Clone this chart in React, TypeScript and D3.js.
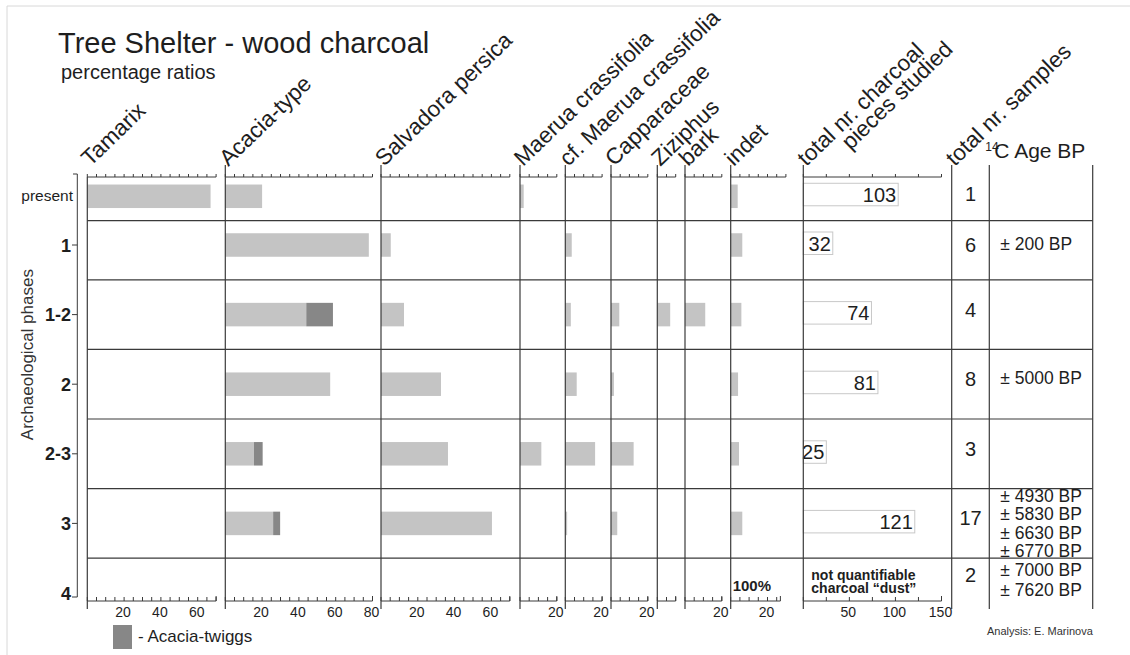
import React from 'react';
import * as d3 from 'd3';

// archaeological phases (rows), top to bottom
const phases = ['present', '1', '1-2', '2', '2-3', '3', '4'];

// percentage ratios per taxon, one value per phase
const tamarix = [67, 0, 0, 0, 0, 0, 0];
const acaciaType = [20, 78, 44, 57, 15.6, 26, 0];
const acaciaTwiggs = [0, 0, 14.5, 0, 4.7, 3.8, 0];
const salvadora = [0, 5.3, 12.5, 32.6, 36.4, 60.3, 0];
const maerua = [2, 0, 0, 0, 11.6, 0, 0];
const cfMaerua = [0, 3.5, 3, 6.2, 16.2, 1, 0];
const capparaceae = [0, 0, 4.5, 1.6, 12.3, 3.4, 0];
const ziziphus = [0, 0, 7, 0, 0, 0, 0];
const bark = [0, 0, 11, 0, 0, 0, 0];
const indet = [3.8, 6.3, 5.8, 4, 4.5, 6.3, 0];

// counts
const charcoalPieces = [103, 32, 74, 81, 25, 121, null];
const sampleCounts = [1, 6, 4, 8, 3, 17, 2];
const c14Ages = [
  [],
  ['± 200 BP'],
  [],
  ['± 5000 BP'],
  [],
  ['± 4930 BP', '± 5830 BP', '± 6630 BP', '± 6770 BP'],
  ['± 7000 BP', '± 7620 BP'],
];

const FONT = "'Liberation Sans', Arial, Helvetica, sans-serif";
const INK = '#1e1e1e';
const LINE = '#3a3a3a';
const LIGHT = '#c4c4c4';
const DARK = '#878787';

const W = 1130;
const H = 655;
const TOP_AXIS = 177;
const BOTTOM_AXIS = 601;
const LINE_TOP = 165;
const LINE_BOTTOM = 609;
const PX_PER_PCT = 1.84;

const taxa = [
  { label: 'Tamarix', x0: 87.3, topMax: 70, botMax: 70, ticks: [20, 40, 60], series: [tamarix] },
  { label: 'Acacia-type', x0: 225.3, topMax: 80, botMax: 80, ticks: [20, 40, 60, 80], series: [acaciaType, acaciaTwiggs] },
  { label: 'Salvadora persica', x0: 381, topMax: 70, botMax: 70, ticks: [20, 40, 60], series: [salvadora] },
  { label: 'Maerua crassifolia', x0: 520, topMax: 20, botMax: 20, ticks: [20], series: [maerua] },
  { label: 'cf. Maerua crassifolia', x0: 565.3, topMax: 20, botMax: 20, ticks: [20], series: [cfMaerua] },
  { label: 'Capparaceae', x0: 611, topMax: 20, botMax: 20, ticks: [20], series: [capparaceae] },
  { label: 'Ziziphus', x0: 657.3, topMax: 10, botMax: 10, ticks: [], series: [ziziphus] },
  { label: 'bark', x0: 685, topMax: 20, botMax: 20, ticks: [20], series: [bark] },
  { label: 'indet', x0: 730.7, topMax: 30, botMax: 27, ticks: [20], series: [indet] },
];

const CHARCOAL_X0 = 803.3;
const SAMPLES_X0 = 951.7;
const C14_X0 = 989.3;
const RIGHT_X = 1092.7;

const xCharcoal = d3.scaleLinear().domain([0, 150]).range([CHARCOAL_X0, 941.5]);

// y positions: phases 1..4 evenly spaced, "present" squeezed above
const yPhase = d3.scalePoint<string>().domain(phases.slice(1)).range([245, 593]);
const step = yPhase.step();
const yOf = (p: string) => (p === 'present' ? (yPhase('1') as number) - step * 0.7 : (yPhase(p) as number));
const ys = phases.map(yOf);
const bounds = [TOP_AXIS, ...d3.pairs(ys).map(([a, b]) => (a + b) / 2), BOTTOM_AXIS];
const rowCenter = (i: number) => (bounds[i] + bounds[i + 1]) / 2;
const BAR_H = 23.5;

const HEADER_ANGLE = -44;
const HEADER_SIZE = 22.5;

function AxisTop({ x, max, stepV }: { x: d3.ScaleLinear<number, number>; max: number; stepV: number }) {
  return (
    <g>
      <line x1={x(0)} x2={x(max)} y1={TOP_AXIS} y2={TOP_AXIS} stroke={LINE} strokeWidth={1} />
      {d3.range(0, max + 0.01, stepV).map((t) => (
        <line key={t} x1={x(t)} x2={x(t)} y1={TOP_AXIS} y2={TOP_AXIS - 3} stroke={LINE} strokeWidth={1} />
      ))}
    </g>
  );
}

function AxisBottom({ x, max, stepV, labels }: { x: d3.ScaleLinear<number, number>; max: number; stepV: number; labels: number[] }) {
  return (
    <g>
      <line x1={x(0)} x2={x(max)} y1={BOTTOM_AXIS} y2={BOTTOM_AXIS} stroke={LINE} strokeWidth={1} />
      {d3.range(0, max + 0.01, stepV).map((t) => (
        <line key={t} x1={x(t)} x2={x(t)} y1={BOTTOM_AXIS} y2={BOTTOM_AXIS - 4} stroke={LINE} strokeWidth={1} />
      ))}
      <line x1={x(max)} x2={x(max)} y1={BOTTOM_AXIS} y2={BOTTOM_AXIS - 5} stroke={LINE} strokeWidth={1} />
      {labels.map((t) => (
        <text key={t} x={x(t) - 1} y={BOTTOM_AXIS + 16} textAnchor="middle" fontSize={14} fill={INK}>
          {t}
        </text>
      ))}
    </g>
  );
}

function HeaderLabel({ x, lines, dx2 = 0, dy2 = 0 }: { x: number; lines: string[]; dx2?: number; dy2?: number }) {
  return (
    <text transform={`translate(${x + 3},${LINE_TOP + 2}) rotate(${HEADER_ANGLE})`} fontSize={HEADER_SIZE} fill={INK}>
      <tspan x={0} y={0}>{lines[0]}</tspan>
      {lines[1] && (
        <tspan x={dx2} y={dy2}>{lines[1]}</tspan>
      )}
    </text>
  );
}

export default function App() {
  const verticals = [...taxa.map((t) => t.x0), CHARCOAL_X0, SAMPLES_X0, C14_X0, RIGHT_X];

  return (
    <svg
      width={W}
      height={H}
      viewBox={`0 0 ${W} ${H}`}
      style={{ position: 'absolute', left: 0, top: 0, background: '#fff', fontFamily: FONT }}
    >
      {/* page frame */}
      <line x1={7} x2={W} y1={6} y2={6} stroke="#d8d8d8" />
      <line x1={7} x2={7} y1={6} y2={H} stroke="#d8d8d8" />

      {/* titles */}
      <text x={58} y={53} fontSize={29} fill={INK}>Tree Shelter - wood charcoal</text>
      <text x={61} y={79} fontSize={20} fill={INK}>percentage ratios</text>

      {/* header labels */}
      {taxa.map((t) => (
        <HeaderLabel key={t.label} x={t.x0} lines={[t.label]} />
      ))}
      <HeaderLabel x={CHARCOAL_X0} lines={['total nr. charcoal', 'pieces studied']} dx2={43} dy2={19} />
      <HeaderLabel x={SAMPLES_X0} lines={['total nr. samples']} />
      <text x={C14_X0 + 5} y={158} fontSize={21} fill={INK}>
        <tspan x={C14_X0 - 4} y={151} fontSize={12}>14</tspan>
        <tspan x={C14_X0 + 5} y={158}>C Age BP</tspan>
      </text>

      {/* bars */}
      {taxa.map((t) => {
        const x = d3.scaleLinear().domain([0, 1]).range([t.x0, t.x0 + PX_PER_PCT]);
        return phases.map((p, i) => {
          let acc = 0;
          return t.series.map((s, si) => {
            const v = s[i];
            const start = acc;
            acc += v;
            if (!v) return null;
            return (
              <rect
                key={`${t.label}-${p}-${si}`}
                x={x(start)}
                y={yOf(p) - BAR_H / 2}
                width={x(start + v) - x(start)}
                height={BAR_H}
                fill={si === 0 ? LIGHT : DARK}
              />
            );
          });
        });
      })}

      {/* charcoal count boxes */}
      {charcoalPieces.map((v, i) =>
        v == null ? null : (
          <g key={`cp-${i}`}>
            <rect
              x={xCharcoal(0)}
              y={ys[i] - 13}
              width={xCharcoal(v) - xCharcoal(0)}
              height={22.5}
              fill="#fff"
              stroke="#c8c8c8"
              strokeWidth={1}
            />
            <text x={xCharcoal(v) - 2} y={ys[i] + 5.5} textAnchor="end" fontSize={20} fill={INK}>
              {v}
            </text>
          </g>
        )
      )}

      {/* row lines */}
      {bounds.slice(1, -1).map((b, i) => (
        <line key={`row-${i}`} x1={taxa[0].x0} x2={RIGHT_X} y1={b} y2={b} stroke={LINE} strokeWidth={1.2} />
      ))}

      {/* column lines */}
      {verticals.map((vx, i) => (
        <line key={`col-${i}`} x1={vx} x2={vx} y1={i === 0 ? TOP_AXIS : LINE_TOP} y2={LINE_BOTTOM} stroke={LINE} strokeWidth={1.2} />
      ))}

      {/* axes */}
      {taxa.map((t) => {
        const x = d3.scaleLinear().domain([0, 1]).range([t.x0, t.x0 + PX_PER_PCT]);
        return (
          <g key={`ax-${t.label}`}>
            <AxisTop x={x} max={t.topMax} stepV={5} />
            <AxisBottom x={x} max={t.botMax} stepV={5} labels={t.ticks} />
          </g>
        );
      })}
      <AxisTop x={xCharcoal} max={150} stepV={25} />
      <AxisBottom x={xCharcoal} max={150} stepV={25} labels={[50, 100, 150]} />

      {/* y axis bracket */}
      <line x1={77.3} x2={77.3} y1={174} y2={ys[6] + 4} stroke={LINE} strokeWidth={1} />
      <line x1={73} x2={77.3} y1={174} y2={174} stroke={LINE} strokeWidth={1} />
      {phases.slice(1).map((p, i) => (
        <line key={`yt-${p}`} x1={72} x2={77.3} y1={ys[i + 1] + (i === 5 ? 4 : 0)} y2={ys[i + 1] + (i === 5 ? 4 : 0)} stroke={LINE} strokeWidth={1} />
      ))}
      <text x={73} y={ys[0] + 5} textAnchor="end" fontSize={15.5} fill={INK}>present</text>
      {phases.slice(1).map((p, i) => (
        <text key={`yl-${p}`} x={71} y={ys[i + 1] + 6.5} textAnchor="end" fontSize={18} fontWeight="bold" fill={INK}>
          {p}
        </text>
      ))}
      <text
        transform={`translate(33,${(bounds[1] + bounds[5]) / 2}) rotate(-90)`}
        textAnchor="middle"
        fontSize={17}
        fill="#333"
      >
        Archaeological phases
      </text>

      {/* samples count */}
      {sampleCounts.map((n, i) => (
        <text key={`sc-${i}`} x={(SAMPLES_X0 + C14_X0) / 2} y={rowCenter(i) + 2} textAnchor="middle" fontSize={20} fill={INK}>
          {n}
        </text>
      ))}

      {/* 14C ages */}
      {c14Ages.map((ages, i) => {
        const gap = ages.length > 2 ? 18.4 : 20;
        const c = rowCenter(i) + (ages.length === 1 ? -6 : 0);
        return ages.map((a, j) => (
          <text key={`age-${i}-${j}`} x={C14_X0 + 11} y={c + 6 + (j - (ages.length - 1) / 2) * gap} fontSize={17.5} fill={INK}>
            {a}
          </text>
        ));
      })}

      {/* phase 4 notes */}
      <text x={taxa[8].x0 + 2} y={591} fontSize={15} fontWeight="bold" fill={INK}>100%</text>
      <text fontSize={14} fontWeight="bold" fill={INK}>
        <tspan x={CHARCOAL_X0 + 8} y={579.5}>not quantifiable</tspan>
        <tspan x={CHARCOAL_X0 + 8} y={593}>charcoal “dust”</tspan>
      </text>

      {/* legend */}
      <rect x={113} y={625} width={19} height={24} fill={DARK} />
      <text x={138} y={642} fontSize={17} fill={INK}>- Acacia-twiggs</text>

      <text x={987} y={635} fontSize={11} fill="#333">Analysis: E. Marinova</text>
    </svg>
  );
}
